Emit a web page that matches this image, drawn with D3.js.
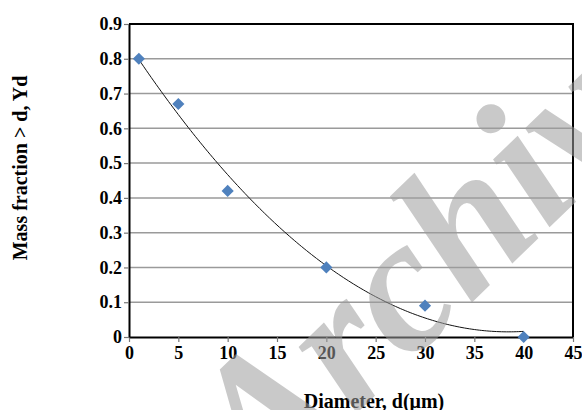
<!DOCTYPE html>
<html>
<head>
<meta charset="utf-8">
<script src="https://cdn.jsdelivr.net/npm/d3@7"></script>
<style>
  html, body { margin: 0; padding: 0; background: #fff; }
  svg { display: block; }
</style>
</head>
<body>
<svg id="chart" width="582" height="410"></svg>
<script>
// Measured particle size data
const diameters = [1, 5, 10, 20, 30, 40];
const massFraction = [0.8, 0.67, 0.42, 0.2, 0.09, 0.0];
const xTicks = [0, 5, 10, 15, 20, 25, 30, 35, 40, 45];
const yTicks = [0, 0.1, 0.2, 0.3, 0.4, 0.5, 0.6, 0.7, 0.8, 0.9];
const xTitle = "Diameter, d(\u03bcm)";
const yTitle = "Mass fraction > d, Yd";
const watermark = "Archive";

const svg = d3.select("#chart");
const m = { left: 129, right: 9, top: 24, bottom: 73 };
const W = 582, H = 410;
const x = d3.scaleLinear().domain([0, 45]).range([m.left, W - m.right]);
const y = d3.scaleLinear().domain([0, 0.9]).range([H - m.bottom, m.top]);

const font = "'Liberation Serif', 'Times New Roman', serif";

// horizontal gridlines
svg.append("g").selectAll("line").data(yTicks.filter(v => v > 0)).join("line")
  .attr("x1", x(0)).attr("x2", x(45))
  .attr("y1", d => y(d)).attr("y2", d => y(d))
  .attr("stroke", "#9a9a9a").attr("stroke-width", 1.5);

// frame (top and right)
svg.append("path")
  .attr("d", `M${x(0)},${y(0.9)}H${x(45)}V${y(0)}`)
  .attr("fill", "none").attr("stroke", "#000").attr("stroke-width", 2);

// axes
const xAxis = d3.axisBottom(x).tickValues(xTicks).tickSize(5).tickSizeOuter(0).tickPadding(4)
  .tickFormat(d3.format("d"));
const yAxis = d3.axisLeft(y).tickValues(yTicks).tickSize(5).tickSizeOuter(0).tickPadding(2)
  .tickFormat(d => d === 0 ? "0" : d3.format(".1f")(d));

const gx = svg.append("g").attr("transform", `translate(0,${y(0)})`).call(xAxis);
const gy = svg.append("g").attr("transform", `translate(${x(0)},0)`).call(yAxis);
[gx, gy].forEach(g => {
  g.select(".domain").attr("stroke", "#000").attr("stroke-width", 2);
  g.selectAll(".tick line").attr("stroke", "#777").attr("stroke-width", 1.2);
  g.selectAll(".tick text")
    .attr("fill", "#000")
    .style("font-family", font).style("font-weight", "bold").style("font-size", "18px");
});

// quadratic least-squares trendline through the measured points
function polyFit2(xs, ys) {
  const S = k => d3.sum(xs, v => Math.pow(v, k));
  const T = k => d3.sum(xs, (v, i) => Math.pow(v, k) * ys[i]);
  const A = [[S(0), S(1), S(2), T(0)], [S(1), S(2), S(3), T(1)], [S(2), S(3), S(4), T(2)]];
  for (let i = 0; i < 3; i++) {
    for (let j = i + 1; j < 3; j++) {
      const f = A[j][i] / A[i][i];
      for (let k = i; k < 4; k++) A[j][k] -= f * A[i][k];
    }
  }
  const c = [0, 0, 0];
  for (let i = 2; i >= 0; i--) {
    let s = A[i][3];
    for (let k = i + 1; k < 3; k++) s -= A[i][k] * c[k];
    c[i] = s / A[i][i];
  }
  return c;
}
const coef = polyFit2(diameters, massFraction);
const xMin = d3.min(diameters), xMax = d3.max(diameters);
const trend = d3.range(xMin, xMax + 0.001, 0.25).map(v => [v, coef[0] + coef[1] * v + coef[2] * v * v]);
svg.append("path")
  .datum(trend)
  .attr("d", d3.line().x(d => x(d[0])).y(d => y(d[1])))
  .attr("fill", "none").attr("stroke", "#111").attr("stroke-width", 1);

// data markers (diamonds)
const marker = d3.symbol().type(d3.symbolSquare).size(74);
svg.append("g").selectAll("path").data(diameters).join("path")
  .attr("d", marker)
  .attr("transform", (d, i) => `translate(${x(d)},${y(massFraction[i])}) rotate(45)`)
  .attr("fill", "#4f81bd");

// axis titles
svg.append("text")
  .attr("x", 374).attr("y", 408)
  .attr("text-anchor", "middle")
  .style("font-family", font).style("font-weight", "bold").style("font-size", "20px")
  .text(xTitle);
svg.append("text")
  .attr("transform", "translate(27,168) rotate(-90)")
  .attr("text-anchor", "middle")
  .style("font-family", font).style("font-weight", "bold").style("font-size", "20px")
  .text(yTitle);

// watermark overlay
svg.append("text")
  .attr("transform", "translate(262,505) rotate(-44)")
  .style("font-family", font).style("font-weight", "bold").style("font-style", "italic")
  .style("font-size", "192px")
  .attr("fill", "#9c9c9c").attr("fill-opacity", 0.55)
  .text(watermark);
</script>
</body>
</html>
